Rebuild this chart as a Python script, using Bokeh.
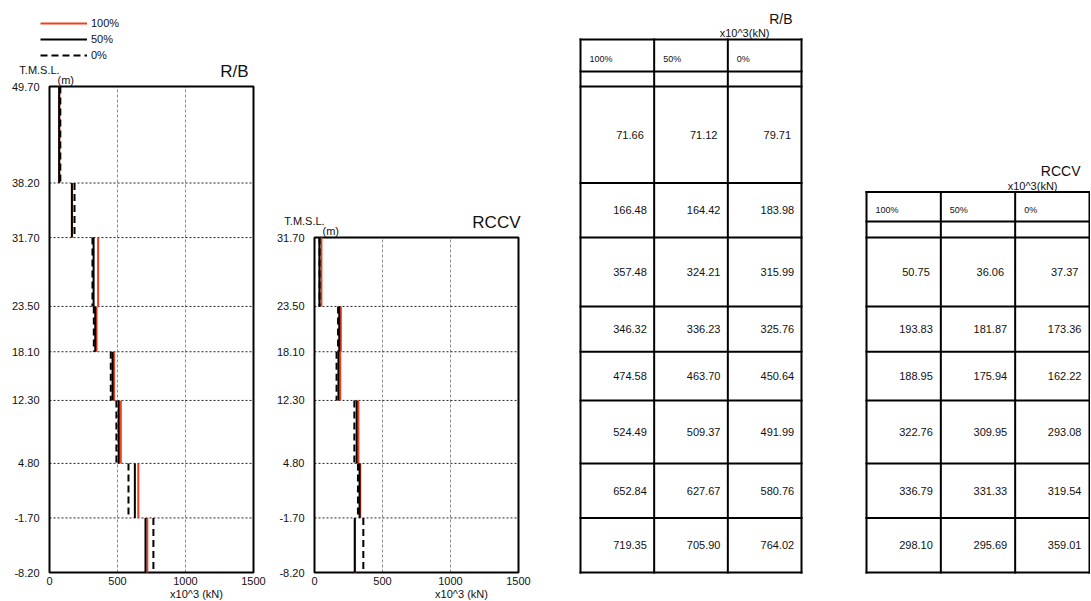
from bokeh.plotting import figure
from bokeh.models import (Range1d, FixedTicker, NumeralTickFormatter, Label,
                          Legend, LegendItem, ColumnDataSource, LinearAxis)
from bokeh.core.properties import value
from bokeh.embed import file_html
from bokeh.resources import INLINE

# ------------------------------------------------------------------ data
series_labels = ["100%", "50%", "0%"]
x_ticks = [0, 500, 1000, 1500]
x_grid = [500, 1000]
unit_label = "x10^3 (kN)"
unit_label_table = "x10^3(kN)"
level_title = "T.M.S.L."
level_unit = "(m)"

rb_title = "R/B"
rb_levels = [49.70, 38.20, 31.70, 23.50, 18.10, 12.30, 4.80, -1.70, -8.20]
rb_100 = [71.66, 166.48, 357.48, 346.32, 474.58, 524.49, 652.84, 719.35]
rb_50 = [71.12, 164.42, 324.21, 336.23, 463.70, 509.37, 627.67, 705.90]
rb_0 = [79.71, 183.98, 315.99, 325.76, 450.64, 491.99, 580.76, 764.02]

rccv_title = "RCCV"
rccv_levels = [31.70, 23.50, 18.10, 12.30, 4.80, -1.70, -8.20]
rccv_100 = [50.75, 193.83, 188.95, 322.76, 336.79, 298.10]
rccv_50 = [36.06, 181.87, 175.94, 309.95, 331.33, 295.69]
rccv_0 = [37.37, 173.36, 162.22, 293.08, 319.54, 359.01]

# ------------------------------------------------------------------ style / layout (px)
FONT = "Liberation Sans"
RED = "#f2401f"
INK = "#111111"
W, H = 1090, 600
TOP_PX, BOT_PX = 86, 572            # canvas y of the top / bottom level
M_PER_PX = (rb_levels[0] - rb_levels[-1]) / (BOT_PX - TOP_PX)
CHART_W_PX = 204
KN_PER_PX = x_ticks[-1] / CHART_W_PX
RB_X0, RCCV_X0 = 49, 314            # canvas x of the charts' left edges
RBT_X0, RBT_X1 = 580, 801           # R/B table left / right
RCT_X0, RCT_X1 = 866, 1089          # RCCV table left / right
NCOL = len(series_labels)


def ym(py):
    return rb_levels[0] - (py - TOP_PX) * M_PER_PX


def py_of(level):
    return TOP_PX + (rb_levels[0] - level) / M_PER_PX


def rng(x0, per_px):
    return Range1d(-x0 * per_px, (W - x0) * per_px)


p = figure(width=W, height=H, output_backend="svg", toolbar_location=None,
           x_range=rng(RB_X0, KN_PER_PX), y_range=Range1d(ym(H), ym(0)),
           x_axis_location=None, y_axis_location=None, min_border=0,
           background_fill_color="white", border_fill_color="white")
p.outline_line_color = None
p.grid.visible = False

rbt_cw = (RBT_X1 - RBT_X0) / NCOL
rct_cw = (RCT_X1 - RCT_X0) / NCOL
p.extra_x_ranges = {"rccv": rng(RCCV_X0, KN_PER_PX),
                    "rbt": rng(RBT_X0, 1 / rbt_cw),
                    "rct": rng(RCT_X0, 1 / rct_cw)}


def label(text, x, y, rname, size="11px", align="center"):
    p.add_layout(Label(x=x, y=y, x_range_name=rname, text=text, text_font=FONT,
                       text_font_size=size, text_align=align, text_baseline="middle",
                       text_color=INK))


def style_axis(ax, standoff):
    ax.axis_line_color = None
    ax.major_tick_line_color = None
    ax.minor_tick_line_color = None
    ax.major_tick_in = 0
    ax.major_tick_out = 0
    ax.minor_tick_in = 0
    ax.minor_tick_out = 0
    ax.major_label_standoff = standoff
    ax.major_label_text_font = FONT
    ax.major_label_text_font_size = "11px"
    ax.major_label_text_color = INK


def draw_chart(levels, v100, v50, v0, title, rname, x0_px, title_dx, legend=False):
    kw = dict(x_range_name=rname)
    top_py = py_of(levels[0])
    # grid lines inside the box
    p.segment(x0=x_grid, x1=x_grid, y0=[levels[-1]] * len(x_grid), y1=[levels[0]] * len(x_grid),
              line_color="#8c8c8c", line_width=1, line_dash="3 2", **kw)
    p.segment(x0=[x_ticks[0]] * len(levels), x1=[x_ticks[-1]] * len(levels), y0=levels, y1=levels,
              line_color="#222222", line_width=1, line_dash="2 2", **kw)
    p.quad(left=[x_ticks[0]], right=[x_ticks[-1]], bottom=[levels[-1]], top=[levels[0]],
           fill_color=None, line_color="black", line_width=2, **kw)

    src = ColumnDataSource(dict(top=levels[:-1], bottom=levels[1:], v100=v100, v50=v50, v0=v0))
    r100 = p.segment(x0="v100", y0="top", x1="v100", y1="bottom", source=src,
                     line_color=RED, line_width=2, **kw)
    r50 = p.segment(x0="v50", y0="top", x1="v50", y1="bottom", source=src,
                    line_color="black", line_width=2, **kw)
    r0 = p.segment(x0="v0", y0="top", x1="v0", y1="bottom", source=src,
                   line_color="black", line_width=2, line_dash="7 4", **kw)

    xa = LinearAxis(fixed_location=levels[-1], ticker=FixedTicker(ticks=x_ticks), **kw)
    style_axis(xa, 4)
    p.add_layout(xa, "below")
    ya = LinearAxis(fixed_location=x_ticks[0], ticker=FixedTicker(ticks=levels),
                    formatter=NumeralTickFormatter(format="0.00"), **kw)
    style_axis(ya, 10)
    p.add_layout(ya, "left")

    def X(px):
        return (px - x0_px) * KN_PER_PX

    label(level_title, X(x0_px - 10), ym(top_py - 17), rname)
    label(level_unit, X(x0_px + 8), ym(top_py - 6.5), rname, align="left")
    label(title, X(x0_px + CHART_W_PX + title_dx), ym(top_py - 15), rname, "17px", "right")
    label(unit_label, X(x0_px + 147), ym(BOT_PX + 21), rname)

    if legend:
        leg = Legend(items=[LegendItem(label=value(series_labels[0]), renderers=[r100]),
                            LegendItem(label=value(series_labels[1]), renderers=[r50]),
                            LegendItem(label=value(series_labels[2]), renderers=[r0])],
                     location=(x0_px - 9, H - 15.7 - 46), padding=0, margin=0, spacing=2,
                     glyph_width=47, glyph_height=14, label_height=14, label_standoff=4,
                     label_text_font=FONT, label_text_font_size="11px",
                     label_text_color=INK, border_line_color=None,
                     background_fill_alpha=0)
        p.add_layout(leg)


def draw_table(levels, cols, title, rname, cw, head_px, gap_px):
    kw = dict(x_range_name=rname)
    n = len(cols)
    head_bot = levels[0] + gap_px * M_PER_PX
    head_top = head_bot + head_px * M_PER_PX
    hy = [head_top, head_bot] + list(levels)
    p.segment(x0=[0] * len(hy), x1=[n] * len(hy), y0=hy, y1=hy,
              line_color="black", line_width=2, line_cap="square", **kw)
    p.segment(x0=list(range(n + 1)), x1=list(range(n + 1)),
              y0=[head_top] * (n + 1), y1=[levels[-1]] * (n + 1),
              line_color="black", line_width=2, line_cap="square", **kw)

    xs, ys, ts = [], [], []
    for c, vals in enumerate(cols):
        for i, v in enumerate(vals):
            xs.append(c + 49.5 / cw)
            ys.append((levels[i] + levels[i + 1]) / 2)
            ts.append(f"{v:.2f}")
    p.text(x=xs, y=ys, text=ts, text_font=value(FONT), text_font_size=value("11px"),
           text_align="center", text_baseline="middle", text_color=INK, **kw)

    p.text(x=[c + 9 / cw for c in range(n)], y=[levels[0] + 27.5 * M_PER_PX] * n,
           text=series_labels, text_font=value(FONT), text_font_size=value("9px"),
           text_align="left", text_baseline="middle", text_color=INK, **kw)
    p.text(x=[n - 9 / cw], y=[head_top + 21 * M_PER_PX], text=[title],
           text_font=value(FONT), text_font_size=value("14px"),
           text_align="right", text_baseline="middle", text_color=INK, **kw)
    p.text(x=[n - 32 / cw], y=[head_top + 6.5 * M_PER_PX], text=[unit_label_table],
           text_font=value(FONT), text_font_size=value("11px"),
           text_align="right", text_baseline="middle", text_color=INK, **kw)


draw_chart(rb_levels, rb_100, rb_50, rb_0, rb_title, "default", RB_X0, -5, legend=True)
draw_chart(rccv_levels, rccv_100, rccv_50, rccv_0, rccv_title, "rccv", RCCV_X0, 2)
draw_table(rb_levels, [rb_100, rb_50, rb_0], rb_title, "rbt", rbt_cw, 32, 15)
draw_table(rccv_levels, [rccv_100, rccv_50, rccv_0], rccv_title, "rct", rct_cw, 29.5, 16)

open("out.html", "w").write(file_html(p, INLINE))
